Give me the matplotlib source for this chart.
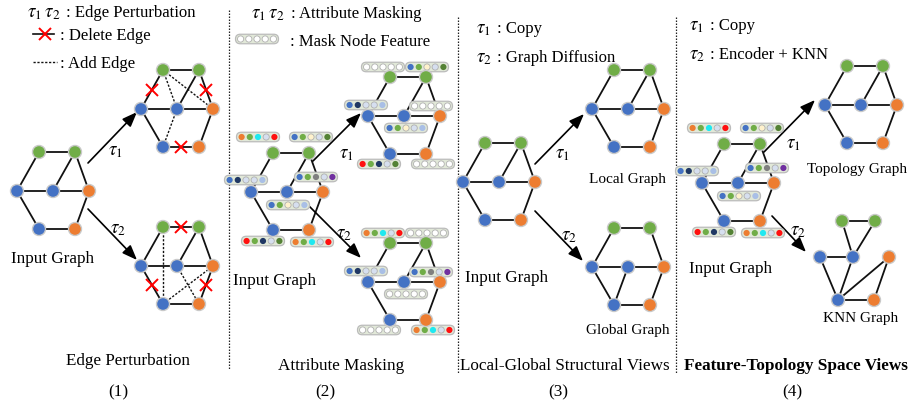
import matplotlib
matplotlib.use('Agg')
import matplotlib.pyplot as plt
from matplotlib.patches import Circle, FancyBboxPatch

plt.rcParams['font.family'] = ['Liberation Serif', 'DejaVu Serif']
plt.rcParams['mathtext.fontset'] = 'stix'

GREEN, BLUE, ORANGE = '#70AD47', '#4472C4', '#ED7D31'
FC = {'o': '#ED7D31', 'g': '#70AD47', 'c': '#1FE8F0', 'p': '#D6DFEF', 'r': '#FF1010',
      'b': '#4472C4', 'y': '#FFF2CC', 'd': '#548235', 'n': '#203864', 'l': '#A9BFE6',
      'a': '#808080', 'u': '#7030A0', 'w': '#FFFFFF'}

# ---------------- data ----------------
node_names = ['TL', 'TR', 'L', 'M', 'R', 'BL', 'BR']
node_colors = {'TL': GREEN, 'TR': GREEN, 'L': BLUE, 'M': BLUE, 'R': ORANGE, 'BL': BLUE, 'BR': ORANGE}
hex_offsets = {'TL': (-14, -39), 'TR': (22, -39), 'L': (-36, 0), 'M': (0, 0), 'R': (36, 0),
               'BL': (-14, 38), 'BR': (22, 38)}
knn_offsets = {'TL': (-11, -36), 'TR': (22, -36), 'L': (-33, 0), 'M': (0, 0), 'R': (36, 0),
               'BL': (-15, 43), 'BR': (21, 43)}
hex_edges = [('TL', 'TR'), ('TL', 'L'), ('TR', 'M'), ('TR', 'R'), ('L', 'M'), ('M', 'R'),
             ('L', 'BL'), ('BL', 'BR'), ('BR', 'R')]
ep1_solid = [('TL', 'TR'), ('TR', 'M'), ('L', 'M'), ('M', 'R'), ('L', 'BL'), ('BR', 'R')]
ep1_deleted = [('TL', 'L'), ('TR', 'R'), ('BL', 'BR')]
ep1_added = [('TL', 'M'), ('TL', 'R'), ('M', 'BL')]
ep2_solid = [('TL', 'L'), ('TR', 'M'), ('TR', 'R'), ('L', 'M'), ('M', 'R'), ('BL', 'BR')]
ep2_deleted = [('TL', 'TR'), ('L', 'BL'), ('BR', 'R')]
ep2_added = [('TL', 'BL'), ('M', 'BR'), ('BL', 'R')]
global_edges = [('TL', 'TR'), ('TL', 'L'), ('TR', 'R'), ('L', 'M'), ('M', 'R'), ('M', 'BL'),
                ('L', 'BL'), ('BL', 'BR'), ('BR', 'R')]
knn_edges = [('TL', 'TR'), ('TL', 'M'), ('TR', 'M'), ('L', 'M'), ('L', 'BL'), ('M', 'BL'),
             ('BL', 'BR'), ('BL', 'R'), ('BR', 'R')]

features = {'TL': 'ogcpr', 'TR': 'bgypd', 'L': 'bnppl', 'R': 'bgapu', 'M': 'bgypl',
            'BL': 'rgnpd', 'BR': 'ogcpr'}
mask_view1 = ['TL', 'R', 'BR']
mask_view2 = ['TR', 'M', 'BL']

# ---------------- layout ----------------
fig = plt.figure(figsize=(9.15, 4.06), dpi=100)
ax = fig.add_axes([0, 0, 1, 1])
ax.set_xlim(0, 915)
ax.set_ylim(406, 0)
ax.axis('off')

NR = 6.5
LW = 1.3


def positions(center, offs):
    return {k: (center[0] + offs[k][0], center[1] + offs[k][1]) for k in node_names}


def draw_nodes(pos):
    for k in node_names:
        ax.add_patch(Circle(pos[k], NR, facecolor=node_colors[k], edgecolor='#C9C9C9',
                            linewidth=1.0, zorder=5))


def draw_edges(pos, edges, style='-', lw=LW, color='#111111'):
    for a, b in edges:
        ax.plot([pos[a][0], pos[b][0]], [pos[a][1], pos[b][1]], linestyle=style,
                color=color, lw=lw, zorder=2, solid_capstyle='butt')


def draw_deleted(pos, edges):
    draw_edges(pos, edges)
    for a, b in edges:
        mx, my = (pos[a][0] + pos[b][0]) / 2, (pos[a][1] + pos[b][1]) / 2
        ax.plot(mx, my, marker='x', color='#FF0000', ms=8, mew=1.4, zorder=6)


def pill(cx, cy, cols, z=4):
    w, h = 43, 9.5
    ax.add_patch(FancyBboxPatch((cx - w / 2, cy - h / 2), w, h,
                                boxstyle='round,pad=0,rounding_size=4.7',
                                facecolor='#E1E8D8', edgecolor='#BBBBBB', lw=0.9, zorder=z))
    for i, c in enumerate(cols):
        x = cx - 16.4 + i * 8.2
        ax.add_patch(Circle((x, cy), 3.1, facecolor=FC[c],
                            edgecolor='#B0B0B0' if c in 'wpy' else 'none', lw=0.6, zorder=z + 0.1))


input_pill_off = {'TL': (-15, -16), 'TR': (2, -16), 'L': (-5, -12), 'R': (-7, -15), 'M': (1, 13),
                  'BL': (-10, 11), 'BR': (3, 12)}
view_pill_off = {'TL': (-7, -10), 'TR': (1, -10), 'L': (-2, -11), 'R': (-9, -10), 'M': (2, 12),
                 'BL': (-11, 10), 'BR': (7, 10)}


def draw_pills(pos, offs, masked=()):
    for k in ['TL', 'TR', 'L', 'R', 'M', 'BL', 'BR']:
        cols = 'wwwww' if k in masked else features[k]
        pill(pos[k][0] + offs[k][0], pos[k][1] + offs[k][1], cols)


def arrow(p0, p1):
    ax.annotate('', xy=p1, xytext=p0,
                arrowprops=dict(arrowstyle='-|>,head_length=0.9,head_width=0.35',
                                color='black', lw=1.2, shrinkA=0, shrinkB=0), zorder=3)


def txt(x, y, s, size=12.3, **kw):
    ax.text(x, y, s, fontsize=size, va='baseline', **kw)


TAU = 13.5

# ===== Panel 1 =====
p = positions((53, 192), hex_offsets)
draw_edges(p, hex_edges); draw_nodes(p)
p = positions((177, 110), hex_offsets)
draw_edges(p, ep1_solid); draw_deleted(p, ep1_deleted)
draw_edges(p, ep1_added, style=(0, (1.6, 1.2)), lw=1.0); draw_nodes(p)
p = positions((177, 267), hex_offsets)
draw_edges(p, ep2_solid); draw_deleted(p, ep2_deleted)
draw_edges(p, ep2_added, style=(0, (1.6, 1.2)), lw=1.0); draw_nodes(p)
arrow((88, 164), (137, 113)); arrow((88, 210), (137, 261))
txt(108, 155, r'$\tau_1$', TAU); txt(110, 233, r'$\tau_2$', TAU)

txt(27, 17, r'$\tau_1\,\tau_2$', TAU)
txt(66, 17, ': Edge Perturbation', 12)
ax.plot([33, 54], [35, 35], color='#111111', lw=1.2)
ax.plot(45, 35, marker='x', color='#FF0000', ms=8, mew=1.4)
txt(60, 40, ': Delete Edge', 12)
ax.plot([33, 57], [63, 63], color='#111111', lw=1.0, linestyle=(0, (1.6, 1.2)))
txt(60, 68, ': Add Edge', 12)
txt(11, 263, 'Input Graph')
txt(128, 365, 'Edge Perturbation', ha='center')
txt(118, 396, '(1)', ha='center')

# ===== Panel 2 =====
p = positions((287, 193), hex_offsets)
draw_edges(p, hex_edges); draw_pills(p, input_pill_off); draw_nodes(p)
p = positions((404, 117), hex_offsets)
draw_edges(p, hex_edges); draw_pills(p, view_pill_off, mask_view1); draw_nodes(p)
p = positions((404, 283), hex_offsets)
draw_edges(p, hex_edges); draw_pills(p, view_pill_off, mask_view2); draw_nodes(p)
arrow((313, 162), (361, 114)); arrow((308, 206), (361, 259))
txt(339, 158, r'$\tau_1$', TAU); txt(336, 238, r'$\tau_2$', TAU)

txt(251, 18, r'$\tau_1\,\tau_2$', TAU)
txt(291, 18, ': Attribute Masking', 12)
pill(257, 40, 'wwwww')
txt(290, 46, ': Mask Node Feature', 12)
txt(233, 285, 'Input Graph')
txt(341, 370, 'Attribute Masking', ha='center')
txt(325, 396, '(2)', ha='center')

# ===== Panel 3 =====
p = positions((499, 183), hex_offsets)
draw_edges(p, hex_edges); draw_nodes(p)
p = positions((628, 110), hex_offsets)
draw_edges(p, hex_edges); draw_nodes(p)
p = positions((628, 268), hex_offsets)
draw_edges(p, global_edges); draw_nodes(p)
arrow((535, 165), (584, 115)); arrow((535, 212), (583, 262))
txt(555, 158, r'$\tau_1$', TAU); txt(561, 240, r'$\tau_2$', TAU)

txt(476, 33, r'$\tau_1$', TAU); txt(497, 33, ': Copy', 12)
txt(476, 62, r'$\tau_2$', TAU); txt(497, 62, ': Graph Diffusion', 12)
txt(589, 183, 'Local Graph', 11)
txt(465, 282, 'Input Graph')
txt(586, 334, 'Global Graph', 11)
txt(565, 370, 'Local-Global Structural Views', ha='center')
txt(558, 396, '(3)', ha='center')

# ===== Panel 4 =====
p = positions((738, 184), hex_offsets)
draw_edges(p, hex_edges); draw_pills(p, input_pill_off); draw_nodes(p)
p = positions((861, 106), hex_offsets)
draw_edges(p, hex_edges); draw_nodes(p)
p = positions((853, 258), knn_offsets)
draw_edges(p, knn_edges); draw_nodes(p)
arrow((764, 153), (815, 101)); arrow((772, 217), (806, 253))
txt(786, 148, r'$\tau_1$', TAU); txt(790, 235, r'$\tau_2$', TAU)

txt(689, 30, r'$\tau_1$', TAU); txt(710, 30, ': Copy', 12)
txt(689, 59, r'$\tau_2$', TAU); txt(710, 59, ': Encoder + KNN', 12)
txt(807, 173, 'Topology Graph', 11)
txt(689, 273, 'Input Graph')
txt(823, 322, 'KNN Graph', 11)
txt(796, 370, 'Feature-Topology Space Views', fontweight='bold', ha='center')
txt(792, 396, '(4)', ha='center')

# dividers
for x, y0, y1 in [(229, 11, 371), (458, 18, 375), (676, 18, 375)]:
    ax.plot([x, x], [y0, y1], color='#222222', lw=0.9, linestyle=(0, (1.2, 1.2)))

fig.savefig('out.png', dpi=100)
